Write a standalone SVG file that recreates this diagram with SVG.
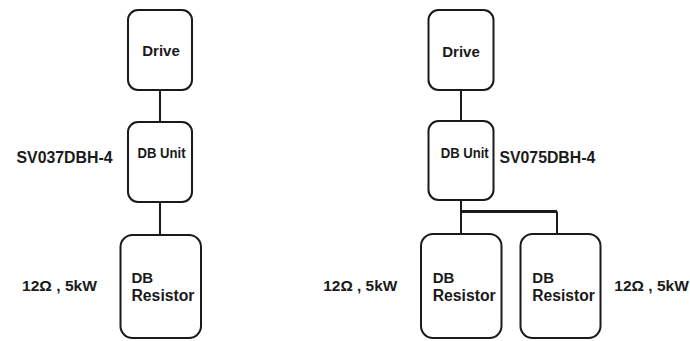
<svg xmlns="http://www.w3.org/2000/svg" width="690" height="341" viewBox="0 0 690 341">
<style>
.box{fill:#fff;stroke:#1a1a1a;stroke-width:2}
.wire{stroke:#1a1a1a;stroke-width:2;fill:none}
.bus{stroke:#1a1a1a;stroke-width:3;fill:none}
text{font-family:"Liberation Sans",Arial,sans-serif;font-weight:bold;fill:#1a1a1a}
.t15{font-size:15px}
.t16{font-size:16px}
.tu{font-size:14px}
</style>
<rect width="690" height="341" fill="#fff"/>
<g id="connectors">
<line class="wire" x1="160" y1="90" x2="160" y2="122"/>
<line class="wire" x1="160" y1="202" x2="160" y2="235"/>
<line class="wire" x1="461" y1="90" x2="461" y2="121"/>
<line class="wire" x1="461" y1="200" x2="461" y2="234"/>
<polyline class="bus" points="461,211.5 557,211.5"/>
<line class="wire" x1="557" y1="211.5" x2="557" y2="234"/>
</g>
<g id="drive-left">
<rect class="box" x="128" y="10" width="64" height="80" rx="10"/>
<text class="t15" x="161" y="56" text-anchor="middle">Drive</text>
</g>
<g id="dbunit-left">
<rect class="box" x="128" y="122" width="64" height="80" rx="10"/>
<text class="t15" x="137.5" y="158" textLength="48" lengthAdjust="spacingAndGlyphs">DB Unit</text>
</g>
<g id="label-sv037">
<text class="t16" x="16.5" y="163.3" textLength="96" lengthAdjust="spacingAndGlyphs">SV037DBH-4</text>
</g>
<g id="resistor-left">
<rect class="box" x="120.5" y="235" width="80.5" height="103" rx="12"/>
<text class="t15" x="131.5" y="282.7">DB</text>
<text class="t16" x="131.5" y="301.3" textLength="63" lengthAdjust="spacingAndGlyphs">Resistor</text>
</g>
<g id="label-res-left">
<text class="t15" x="22" y="290.5" textLength="75" lengthAdjust="spacingAndGlyphs">12Ω , 5kW</text>
</g>
<g id="drive-right">
<rect class="box" x="428.5" y="10" width="65" height="80" rx="10"/>
<text class="t15" x="461" y="56.5" text-anchor="middle">Drive</text>
</g>
<g id="dbunit-right">
<rect class="box" x="428.5" y="121" width="65" height="79" rx="10"/>
<text class="t15" x="440.7" y="157.5" textLength="48" lengthAdjust="spacingAndGlyphs">DB Unit</text>
</g>
<g id="label-sv075">
<text class="t16" x="499.5" y="163.3" textLength="95.7" lengthAdjust="spacingAndGlyphs">SV075DBH-4</text>
</g>
<g id="resistor-right-1">
<rect class="box" x="421" y="234" width="80.5" height="104" rx="12"/>
<text class="t15" x="432.7" y="282.7">DB</text>
<text class="t16" x="432.7" y="301" textLength="63" lengthAdjust="spacingAndGlyphs">Resistor</text>
</g>
<g id="resistor-right-2">
<rect class="box" x="520.5" y="234" width="80" height="104" rx="12"/>
<text class="t15" x="532.3" y="282.7">DB</text>
<text class="t16" x="532.3" y="301" textLength="62.5" lengthAdjust="spacingAndGlyphs">Resistor</text>
</g>
<g id="label-res-right-1">
<text class="t15" x="323.3" y="291" textLength="74" lengthAdjust="spacingAndGlyphs">12Ω , 5kW</text>
</g>
<g id="label-res-right-2">
<text class="t15" x="614.3" y="290.5" textLength="74.5" lengthAdjust="spacingAndGlyphs">12Ω , 5kW</text>
</g>
</svg>
